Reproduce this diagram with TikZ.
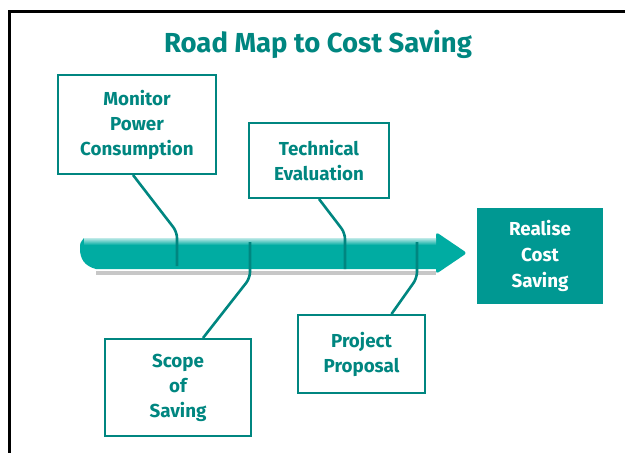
\documentclass[tikz,border=0pt]{standalone}
\usepackage{fontspec}
\setmainfont{Fira Sans}
\definecolor{roadteal}{RGB}{0,134,128}
\definecolor{arrowteal}{RGB}{0,172,162}
\definecolor{goalteal}{RGB}{0,152,146}
\begin{document}
\begin{tikzpicture}[x=1pt,y=-1pt,
	stepbox/.style={draw=roadteal, line width=2pt, text=roadteal, align=center,
		font=\fontsize{18.8}{25}\selectfont\bfseries},
	goalbox/.style={fill=goalteal, text=white, align=center,
		font=\fontsize{18.8}{26}\selectfont\bfseries},
	link/.style={draw=roadteal, line width=2.6pt, rounded corners=6pt}]

	\useasboundingbox (0,0) rectangle (625,453);
	\draw [line width=3pt] (9.5,453) -- (9.5,11.5) -- (625,11.5);

	\node [text=roadteal, font=\fontsize{27.5}{30}\selectfont\bfseries] (title) at (318,44) {Road Map to Cost Saving};

	% the road
	\fill [black!22] (96,271) -- (436,271) -- (436,275) -- (96,275) -- cycle;
	\fill [arrowteal] (84,238) -- (436,238) [rounded corners=3pt] -- (436,232) -- (467,253) -- (436,274) [sharp corners] -- (436,269) -- (96,269)
		.. controls (84,266) and (80,258) .. (80,249) .. controls (80,243) .. cycle;
	\shade [top color=arrowteal!25!white, bottom color=arrowteal] (84,238) rectangle (436,245);

	\node [stepbox, minimum width=158, minimum height=99] (monitor) at (137,124.5) {Monitor\\Power\\Consumption};
	\node [stepbox, minimum width=140, minimum height=75] (technical) at (319,160.5) {Technical\\Evaluation};
	\node [stepbox, minimum width=146, minimum height=97] (scope) at (178,387.5) {Scope\\of\\Saving};
	\node [stepbox, minimum width=127, minimum height=78] (project) at (361.5,354) {Project\\Proposal};
	\node [goalbox, minimum width=126, minimum height=96] (realise) at (540,256) {Realise\\Cost\\Saving};

	\coordinate (monitorA) at (177,266);
	\coordinate (technicalA) at (345,269);
	\coordinate (scopeA) at (250,242);
	\coordinate (projectA) at (417,242);

	\draw [link] (monitorA) -- ++(0,-34) -- ([xshift=-4pt]monitor.south);
	\draw [link] (technicalA) -- ++(0,-36) -- (technical.south);
	\draw [link] (scopeA) -- ++(0,36) -- ([xshift=25pt]scope.north);
	\draw [link] (projectA) -- ++(0,36) -- ([xshift=30pt]project.north);

\end{tikzpicture}
\end{document}
